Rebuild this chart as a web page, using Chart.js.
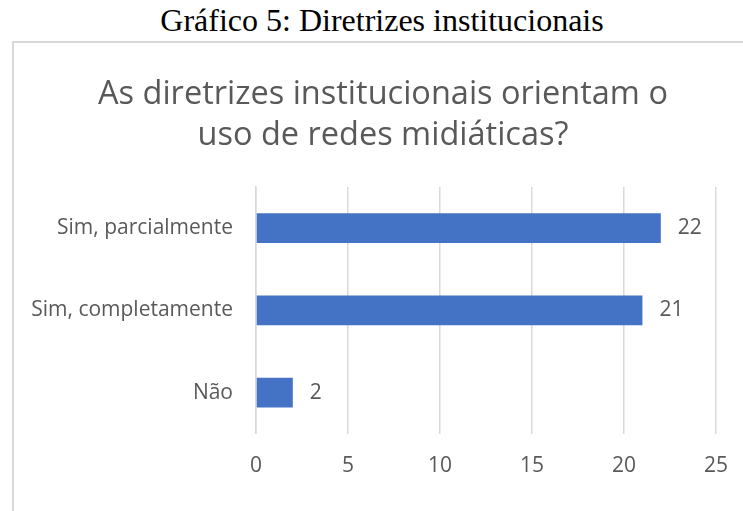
<!DOCTYPE html>
<html>
<head>
<meta charset="utf-8">
<script src="https://cdn.jsdelivr.net/npm/chart.js@4/dist/chart.umd.min.js"></script>
<style>
  html, body { margin:0; padding:0; background:#fff; overflow:hidden; width:743px; height:511px; }
  #caption { position:absolute; left:0; top:0; width:764px; height:40px; line-height:40px; text-align:center;
             font-family:"Liberation Serif","Times New Roman",serif; font-size:32px; color:#000; }
  #box { position:absolute; left:12px; top:41px; width:738px; height:480px; border:2px solid #d9d9d9; background:#fff; }
  canvas { display:block; }
</style>
</head>
<body>
<div id="caption">Gráfico 5: Diretrizes institucionais</div>
<div id="box"><canvas id="chart" width="738" height="468"></canvas></div>
<script>
// dados do gráfico
const categories = ['Sim, parcialmente', 'Sim, completamente', 'Não'];
const values     = [22, 21, 2];
const xTicks     = [0, 5, 10, 15, 20, 25];
const titleLines = ['As diretrizes institucionais orientam o', 'uso de redes midiáticas?'];

const INK  = '#595959';
const GRID = '#d9d9d9';
const FONT = "'Open Sans', 'Noto Sans', sans-serif";

// rótulos de valor no fim de cada barra
const valueLabels = {
  id: 'valueLabels',
  afterDatasetsDraw(chart) {
    const ctx = chart.ctx;
    const meta = chart.getDatasetMeta(0);
    ctx.save();
    ctx.font = '21px ' + FONT;
    ctx.fillStyle = INK;
    ctx.textAlign = 'left';
    ctx.textBaseline = 'middle';
    meta.data.forEach((bar, i) => {
      ctx.fillText(String(values[i]), bar.x + 17, bar.y);
    });
    ctx.restore();
  }
};

new Chart(document.getElementById('chart').getContext('2d'), {
  type: 'bar',
  data: {
    labels: categories,
    datasets: [{ data: values, backgroundColor: '#4472C4', barPercentage: 0.36, categoryPercentage: 1 }]
  },
  options: {
    indexAxis: 'y',
    responsive: false,
    animation: false,
    devicePixelRatio: 1,
    layout: { padding: { left: 0, right: 0, top: 0, bottom: 12 } },
    plugins: {
      legend: { display: false },
      tooltip: { enabled: false },
      title: {
        display: true,
        text: titleLines,
        color: INK,
        font: { family: FONT, size: 32.5, weight: 'normal', lineHeight: 41 / 32.5 },
        padding: { top: 31, bottom: 31 }
      }
    },
    scales: {
      x: {
        min: 0, max: 25,
        afterBuildTicks: s => { s.ticks = xTicks.map(v => ({ value: v })); },
        grid: { color: GRID, lineWidth: 1.5, drawTicks: false },
        border: { display: false },
        ticks: { color: INK, font: { family: FONT, size: 21 }, padding: 20 }
      },
      y: {
        afterFit: s => { s.width = 242; },
        grid: { display: false, drawTicks: false },
        border: { display: true, color: GRID, width: 1.5 },
        ticks: { color: INK, font: { family: FONT, size: 21 }, padding: 23 }
      },
      // margem direita vazia (mantém o título centrado na caixa)
      spacer: {
        type: 'linear',
        position: 'right',
        axis: 'y',
        afterFit: s => { s.width = 36; },
        grid: { display: false, drawTicks: false },
        border: { display: false },
        ticks: { display: false }
      }
    }
  },
  plugins: [valueLabels]
});
</script>
</body>
</html>
